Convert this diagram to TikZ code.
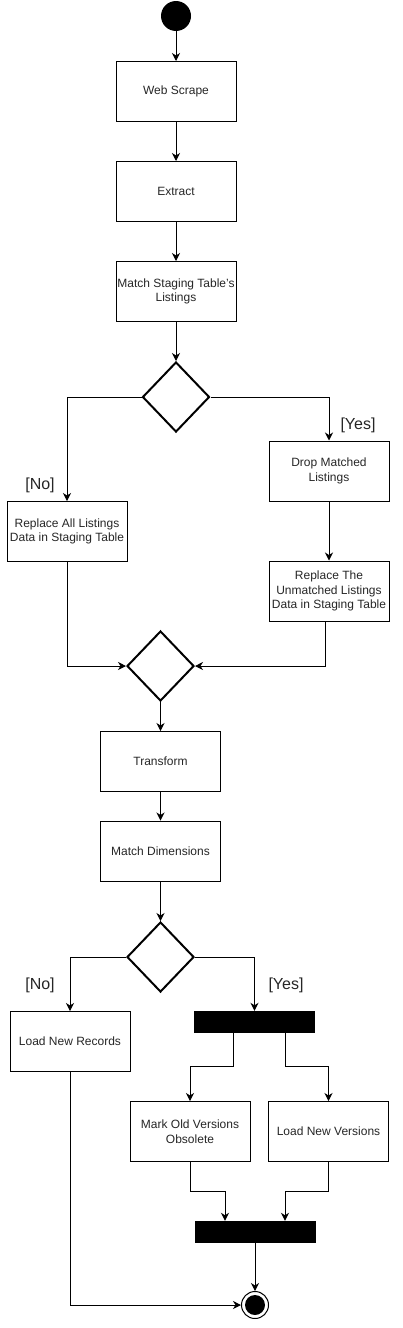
\documentclass[tikz,border=0pt]{standalone}
\usepackage{fontspec}
\setmainfont{Liberation Sans}
\usetikzlibrary{shapes.geometric,arrows.meta,calc}
\begin{document}
\begin{tikzpicture}[x=1pt,y=-1pt,
  box/.style={draw=black,line width=1pt,minimum width=120pt,minimum height=60pt,inner sep=0pt,align=center,font=\fontsize{12}{14.5}\selectfont,text=black!85},
  dec/.style={draw=black,diamond,line width=2pt,minimum width=67pt,minimum height=70pt,inner sep=0pt},
  bar/.style={fill=black,draw=black,minimum width=120pt,minimum height=21pt,inner sep=0pt},
  arr/.style={draw=black,line width=1pt,-{Stealth[length=8pt,width=8pt,inset=2.5pt]}},
  lbl/.style={font=\fontsize{16}{18}\selectfont,text=black!85,inner sep=0pt}]
\useasboundingbox (0,0) rectangle (403,1328);
\node[circle,fill=black,minimum size=30pt,inner sep=0pt] (start) at (176,16) {};
\node[box] (ws) at (176,91.5) {Web Scrape};
\node[box] (ex) at (176,191.5) {Extract};
\node[box] (ms) at (176,291.5) {Match Staging Table's\\Listings};
\node[dec] (d1) at (176,397) {};
\node[box] (ra) at (67,531.5) {Replace All Listings\\Data in Staging Table};
\node[box] (dm) at (329,471) {Drop Matched\\Listings};
\node[box] (ru) at (329,591) {Replace The\\Unmatched Listings\\Data in Staging Table};
\node[dec] (d2) at (160.5,666) {};
\node[box] (tr) at (160.5,761.5) {Transform};
\node[box] (md) at (160.5,851) {Match Dimensions};
\node[dec] (d3) at (160.5,957) {};
\node[box] (lr) at (70,1041.5) {Load New Records};
\node[bar] (fork) at (254.5,1021.5) {};
\node[box] (mo) at (190,1131.5) {Mark Old Versions\\Obsolete};
\node[box] (lv) at (328.5,1131.5) {Load New Versions};
\node[bar] (join) at (255,1231.5) {};
\node[circle,draw=black,line width=1pt,minimum size=27pt,inner sep=0pt] (end) at (255,1305) {};
\fill[black] (end.center) circle (10pt);
\node[lbl] (no1) at (40,485) {[No]};
\node[lbl] (yes1) at (358,425) {[Yes]};
\node[lbl] (no2) at (40,985) {[No]};
\node[lbl] (yes2) at (286,985) {[Yes]};
\draw[arr] (start.south) -- (ws.north);
\draw[arr] (ws.south) -- (ex.north);
\draw[arr] (ex.south) -- (ms.north);
\draw[arr] (ms.south) -- (d1.north);
\draw[arr] (d1.west) -| (ra.north);
\draw[arr] (d1.east) -| (dm.north);
\draw[arr] (dm.south) -- (ru.north);
\draw[arr] (ra.south) |- (d2.west);
\draw[arr] ([xshift=-4pt]ru.south) |- (d2.east);
\draw[arr] (d2.south) -- (tr.north);
\draw[arr] (tr.south) -- (md.north);
\draw[arr] (md.south) -- (d3.north);
\draw[arr] (d3.west) -| (lr.north);
\draw[arr] (d3.east) -| (fork.north);
\draw[arr] ([xshift=-21.5pt]fork.south) -- ++(0,34) -| (mo.north);
\draw[arr] ([xshift=30.5pt]fork.south) -- ++(0,34) -| (lv.north);
\draw[arr] (mo.south) -- ++(0,29) -| ([xshift=-30pt]join.north);
\draw[arr] (lv.south) -- ++(0,29) -| ([xshift=30pt]join.north);
\draw[arr] (join.south) -- (end.north);
\draw[arr] (lr.south) |- (end.west);
\end{tikzpicture}
\end{document}
